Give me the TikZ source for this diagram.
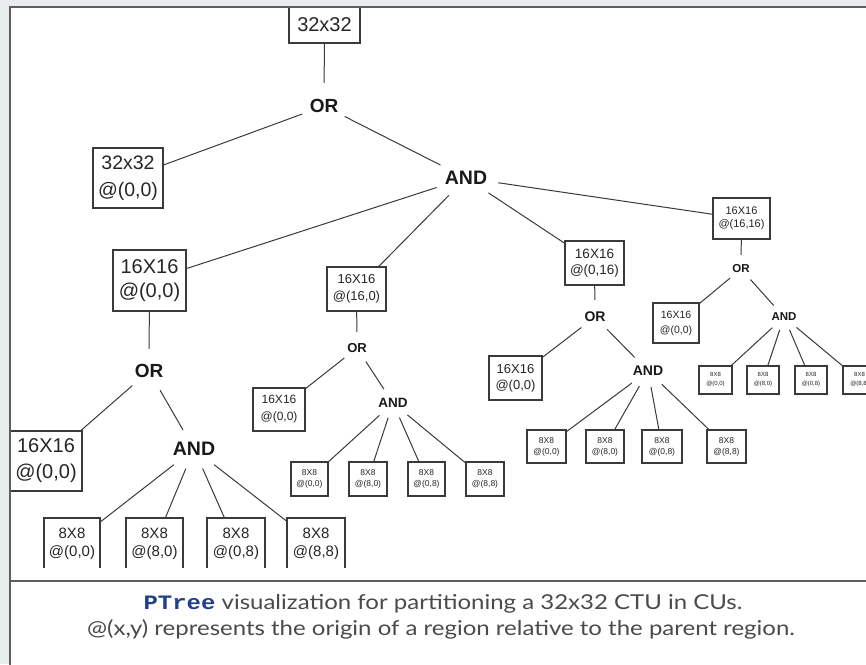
\documentclass[tikz,border=0pt]{standalone}
\usepackage{fontspec}
\setmainfont{Liberation Sans}
\newfontfamily\capfont{Lato}[FakeStretch=1.17]
\newfontfamily\ptmono{Liberation Mono}[FakeStretch=1.17]
\usetikzlibrary{shapes.geometric}
\definecolor{bggrey}{HTML}{E9EDED}
\definecolor{framegrey}{HTML}{5E5E5E}
\definecolor{linegrey}{HTML}{3A3A3A}
\definecolor{capgrey}{HTML}{4A4A4A}
\definecolor{ptblue}{HTML}{22408A}
\tikzset{
  bx/.style n args={4}{draw=linegrey, line width=1.1pt, inner sep=0pt, align=center,
    text=black!85, minimum width=#1pt, minimum height=#2pt,
    font=\fontsize{#3pt}{#4pt}\selectfont},
  orn/.style 2 args={circle, inner sep=0pt, minimum size=#2pt, text=black!90,
    font=\bfseries\fontsize{#1pt}{#1pt}\selectfont},
  andn/.style n args={3}{ellipse, inner sep=0pt, minimum width=#2pt, minimum height=#3pt,
    text=black!90, font=\bfseries\fontsize{#1pt}{#1pt}\selectfont},
  edge/.style={draw=linegrey, line width=1pt},
  captext/.style={text=capgrey, inner sep=0pt},
}
\begin{document}
\begin{tikzpicture}[x=1pt,y=-1pt]
\useasboundingbox (0,0) rectangle (866,664);
\clip (0,0) rectangle (866,664);
\fill[bggrey] (0,0) rectangle (866,664);
\fill[white] (10,7) rectangle (880,680);
\begin{scope}
\clip (10,7) rectangle (866,567);
% level 0
\node[bx={71}{36}{20}{22}] (root) at (324.5,25) {32x32};
\node[orn={19}{46}] (or1) at (324,106) {OR};
\node[bx={70}{60}{19.5}{27}] (b32) at (128,178) {32x32\\@(0,0)};
\node[andn={19.5}{66}{40}] (and1) at (466,178) {AND};
% level 1
\node[bx={73}{61}{20}{24}] (b16a) at (149.5,280.5) {16X16\\@(0,0)};
\node[bx={59}{44}{13}{17}] (b16b) at (356.5,289) {16X16\\@(16,0)};
\node[bx={59}{44}{13.5}{16}] (b16c) at (594.5,263) {16X16\\@(0,16)};
\node[bx={57}{41}{11}{13}] (b16d) at (741.5,218.5) {16X16\\@(16,16)};
% branch a
\node[orn={19}{44}] (or2) at (149,371) {OR};
\node[bx={72}{60}{20}{26}] (a0) at (46,461) {16X16\\@(0,0)};
\node[andn={19.5}{64}{40}] (and2) at (194,449) {AND};
\node[bx={56}{52}{15}{18}] (e1) at (72,544) {8X8\\@(0,0)};
\node[bx={57}{52}{15}{18}] (e2) at (154.5,544) {8X8\\@(8,0)};
\node[bx={58}{52}{15}{18}] (e3) at (236,544) {8X8\\@(0,8)};
\node[bx={58}{52}{15}{18}] (e4) at (316,544) {8X8\\@(8,8)};
% branch b
\node[orn={13}{32}] (or3) at (357,348) {OR};
\node[bx={52}{43}{12}{17}] (b0) at (279,409.5) {16X16\\@(0,0)};
\node[andn={13.5}{46}{30}] (and3) at (393,403) {AND};
\node[bx={37}{34}{8.5}{11}] (f1) at (309.5,479) {8X8\\@(0,0)};
\node[bx={38}{34}{8.5}{11}] (f2) at (368,479) {8X8\\@(8,0)};
\node[bx={37}{34}{8.5}{11}] (f3) at (426.5,479) {8X8\\@(0,8)};
\node[bx={38}{34}{8.5}{11}] (f4) at (485,479) {8X8\\@(8,8)};
% branch c
\node[orn={14}{34}] (or4) at (595,317) {OR};
\node[bx={53}{44}{13}{16}] (c0) at (515.5,378) {16X16\\@(0,0)};
\node[andn={14}{48}{32}] (and4) at (648,371) {AND};
\node[bx={39}{33}{8.5}{11}] (g1) at (546.5,446.5) {8X8\\@(0,0)};
\node[bx={38}{33}{8.5}{11}] (g2) at (605,446.5) {8X8\\@(8,0)};
\node[bx={40}{33}{8.5}{11}] (g3) at (662,446.5) {8X8\\@(0,8)};
\node[bx={39}{33}{8.5}{11}] (g4) at (726.5,446.5) {8X8\\@(8,8)};
% branch d
\node[orn={11.5}{28}] (or5) at (741,269) {OR};
\node[bx={46}{40}{10.5}{15}] (d0) at (676,323) {16X16\\@(0,0)};
\node[andn={11.5}{40}{26}] (and5) at (784,317) {AND};
\node[bx={33}{28}{6}{9}] (h1) at (715.5,380) {8X8\\@(0,0)};
\node[bx={32}{28}{6}{9}] (h2) at (763,380) {8X8\\@(8,0)};
\node[bx={32}{28}{6}{9}] (h3) at (811,380) {8X8\\@(0,8)};
\node[bx={33}{28}{6}{9}] (h4) at (859.5,380) {8X8\\@(8,8)};
% edges
\draw[edge] (root) -- (or1);
\draw[edge] (or1) -- (b32);
\draw[edge] (or1) -- (and1);
\foreach \t in {b16a,b16b,b16c,b16d} \draw[edge] (and1) -- (\t);
\draw[edge] (b16a) -- (or2);
\draw[edge] (or2) -- (a0);
\draw[edge] (or2) -- (and2);
\foreach \t in {e1,e2,e3,e4} \draw[edge] (and2) -- (\t);
\draw[edge] (b16b) -- (or3);
\draw[edge] (or3) -- (b0);
\draw[edge] (or3) -- (and3);
\foreach \t in {f1,f2,f3,f4} \draw[edge] (and3) -- (\t);
\draw[edge] (b16c) -- (or4);
\draw[edge] (or4) -- (c0);
\draw[edge] (or4) -- (and4);
\foreach \t in {g1,g2,g3,g4} \draw[edge] (and4) -- (\t);
\draw[edge] (b16d) -- (or5);
\draw[edge] (or5) -- (d0);
\draw[edge] (or5) -- (and5);
\foreach \t in {h1,h2,h3,h4} \draw[edge] (and5) -- (\t);
\end{scope}
% frame
\draw[framegrey, line width=2.2pt] (10,680) -- (10,7) -- (880,7);
\draw[framegrey, line width=2.2pt] (10,581) -- (880,581);
% caption
\node[captext, font=\capfont\fontsize{20.5}{25}\selectfont] (cap1) at (443,604)
  {{\ptmono\bfseries\color{ptblue}PTree} visualization for partitioning a 32x32 CTU in CUs.};
\node[captext, font=\capfont\fontsize{20.5}{25}\selectfont] (cap2) at (441,629)
  {@(x,y) represents the origin of a region relative to the parent region.};
\end{tikzpicture}
\end{document}
